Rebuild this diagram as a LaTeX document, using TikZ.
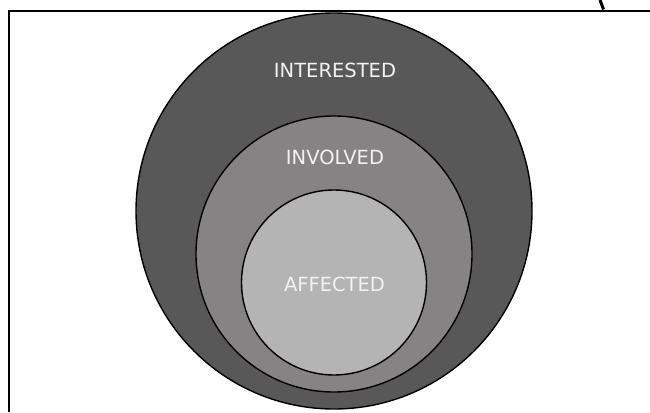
\documentclass[tikz,border=0pt]{standalone}
\usepackage{fontspec}
\setmainfont{DejaVu Sans}
\usepackage{tikz}
\usetikzlibrary{positioning}
\definecolor{ringdark}{HTML}{585858}
\definecolor{ringmid}{HTML}{858383}
\definecolor{ringlight}{HTML}{B4B4B4}
\definecolor{ringtext}{HTML}{F2F2F2}

\tikzset{
  ring/.style={draw=black, line width=1.4pt},
  ringlabel/.style={text=ringtext, font=\fontsize{19.5}{22}\selectfont, inner sep=0pt}
}

\begin{document}
\begin{tikzpicture}[x=1pt, y=-1pt]
    \useasboundingbox (0,0) rectangle (650,412);
    % frame round the figure
    \draw[line width=2.6pt] (9,412) -- (9,11) -- (650,11);
    \draw[line width=3pt] (600,0) .. controls (600.8,5) .. (603.5,9.5);

    % nested rings
    \fill[ringdark, ring] (334,211) circle (198);
    \fill[ringmid, ring] (334,254) circle (138);
    \fill[ringlight, ring] (334,282.5) circle (92.5);

    \node[ringlabel] (interested) at (335,70) {INTERESTED};
    \node[ringlabel] (involved) at (335,157.5) {INVOLVED};
    \node[ringlabel] (affected) at (334.5,284) {AFFECTED};
  \end{tikzpicture}
\end{document}
